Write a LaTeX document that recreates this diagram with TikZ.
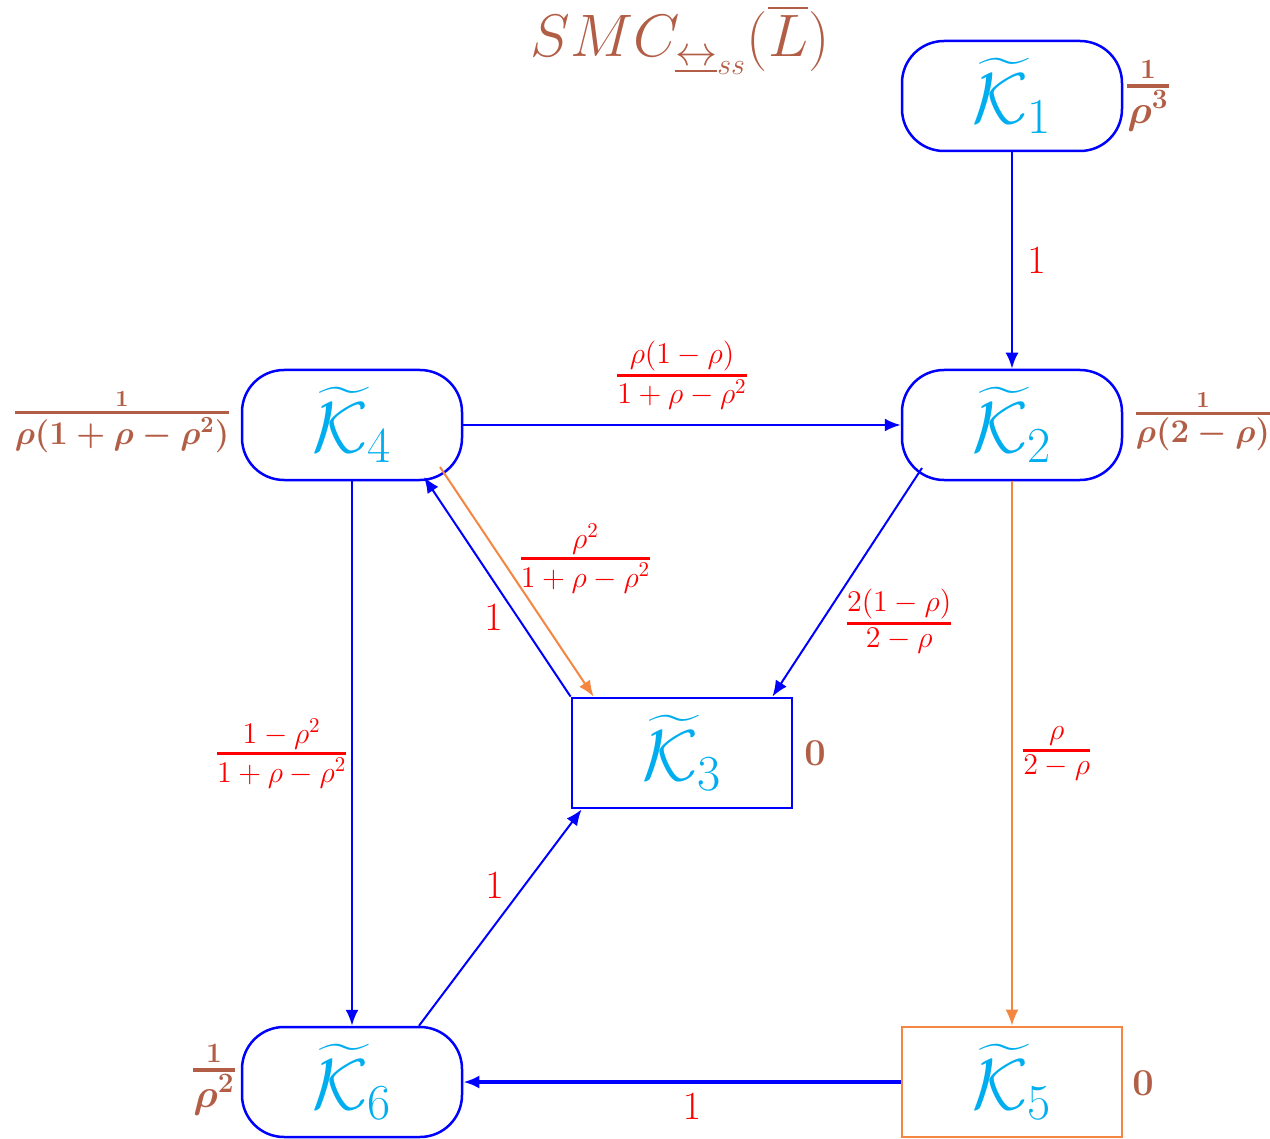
\RequirePackage{fix-cm}
\documentclass[tikz,border=0pt]{standalone}
\usepackage{amsmath}
\usetikzlibrary{arrows.meta,calc}
\definecolor{kcyan}{RGB}{0,174,239}
\definecolor{wbrown}{RGB}{178,94,70}
\definecolor{eorange}{RGB}{245,134,66}
\newcommand\myfrac[2]{\genfrac{}{}{1.5pt}{}{\textstyle #1}{\textstyle #2}}
\newcommand\mywfrac[2]{\genfrac{}{}{1.6pt}{}{#1}{\textstyle #2}}
\begin{document}
\begin{tikzpicture}[x=0.5pt,y=-0.5pt,
  rstate/.style={draw=blue, line width=1.25pt, rounded corners=21pt, minimum width=110pt, minimum height=55pt, inner sep=0pt, text=kcyan, font=\fontsize{36}{40}\selectfont},
  sstate/.style={draw=blue, line width=1.4pt, minimum width=110pt, minimum height=55pt, inner sep=0pt, text=kcyan, font=\fontsize{36}{40}\selectfont},
  weight/.style={text=wbrown, font=\boldmath\fontsize{16.5}{20}\selectfont, inner sep=1pt},
  bigweight/.style={text=wbrown, font=\boldmath\fontsize{20}{24}\selectfont, inner sep=1pt},
  zeroweight/.style={text=wbrown, font=\boldmath\fontsize{19}{22}\selectfont, inner sep=1pt},
  elab/.style={text=red, font=\fontsize{20}{24}\selectfont, inner sep=2pt},
  flab/.style={text=red, font=\fontsize{15}{18}\selectfont, inner sep=1pt},
  barrow/.style={draw=blue, -{Latex[length=8pt,width=6.5pt]}},
  oarrow/.style={draw=eorange, line width=1pt, -{Latex[length=8pt,width=6.5pt]}},
]
\useasboundingbox (0,0) rectangle (1270,1139);

% title
\node[text=wbrown, font=\fontsize{30}{35}\selectfont] (title) at (680,40) {$SMC_{\underline{\leftrightarrow}_{ss}}(\overline{L})$};

% states
\node[rstate] (K1) at (1012,96) {$\widetilde{\mathcal{K}}_1$};
\node[rstate] (K4) at (352,425) {$\widetilde{\mathcal{K}}_4$};
\node[rstate] (K2) at (1012,425) {$\widetilde{\mathcal{K}}_2$};
\node[sstate] (K3) at (682,753) {$\widetilde{\mathcal{K}}_3$};
\node[rstate] (K6) at (352,1082) {$\widetilde{\mathcal{K}}_6$};
\node[sstate, draw=eorange] (K5) at (1012,1082) {$\widetilde{\mathcal{K}}_5$};

% weights
\node[bigweight] (w1) at (1148,96) {$\mywfrac{1}{\rho^3}$};
\node[weight] (w4) at (122,422) {$\mywfrac{1}{\rho(1+\rho-\rho^2)}$};
\node[weight] (w2) at (1203,422) {$\mywfrac{1}{\rho(2-\rho)}$};
\node[zeroweight] (w3) at (815,753) {$0$};
\node[bigweight] (w6) at (214,1080) {$\mywfrac{1}{\rho^2}$};
\node[zeroweight] (w5) at (1143,1083) {$0$};

% edges
\draw[barrow, line width=1.3pt] (K1.south) -- (K2.north)
  node[elab, midway, right=5pt] {$1$};
\draw[barrow, line width=1.2pt] (K4.east) -- (K2.west)
  node[flab, midway, above=6pt] {$\myfrac{\rho(1-\rho)}{1+\rho-\rho^2}$};
\draw[barrow, line width=1pt] ($(K2.center)+(-90,43)$) -- ($(K3.north east)+(-21,0)$)
  node[flab, pos=0.67, right=10pt] {$\myfrac{2(1-\rho)}{2-\rho}$};
\draw[oarrow] (K2.south) -- (K5.north)
  node[flab, midway, right=3pt] {$\myfrac{\rho}{2-\rho}$};
\draw[barrow, line width=1pt] (K3.north west) -- ($(K4.center)+(72,52)$)
  node[elab, pos=0.36, left=5pt] {$1$};
\draw[oarrow] ($(K4.center)+(88,42)$) -- ($(K3.north west)+(23,0)$)
  node[flab, pos=0.4, right=7pt] {$\myfrac{\rho^2}{1+\rho-\rho^2}$};
\draw[barrow, line width=1.2pt] (K4.south) -- (K6.north)
  node[flab, midway, left=0pt] {$\myfrac{1-\rho^2}{1+\rho-\rho^2}$};
\draw[barrow, line width=1pt] ($(K6.north)+(67,0)$) -- ($(K3.south west)+(11,0)$)
  node[elab, pos=0.65, left=8pt] {$1$};
\draw[barrow, line width=2pt] (K5.west) -- (K6.east)
  node[elab, midway, below=3pt, xshift=5pt] {$1$};
\end{tikzpicture}
\end{document}
